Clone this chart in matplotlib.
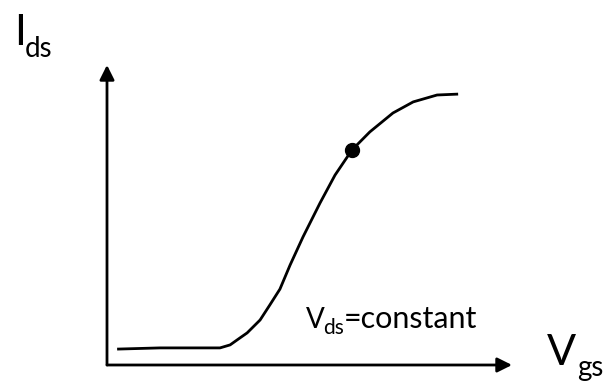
import matplotlib
matplotlib.use("Agg")
import matplotlib.pyplot as plt

plt.rcParams['font.family'] = ['Lato', 'DejaVu Sans']

W, H = 603, 381

vgs = [0.25, 1.31, 2.30, 2.79, 3.04, 3.28, 3.46, 3.78, 4.02, 4.27, 4.52,
       4.84, 5.26, 5.63, 6.05, 6.49, 7.06, 7.56, 8.15, 8.67]
ids = [0.53, 0.57, 0.57, 0.57, 0.67, 0.90, 1.07, 1.50, 2.00, 2.53, 3.33,
       4.27, 5.40, 6.33, 7.17, 7.77, 8.40, 8.77, 9.00, 9.03]
# operating point
q_vgs = 6.05
q_ids = 7.17


def fx(x):
    return x / W


def fy(y):
    return 1 - y / H


fig = plt.figure(figsize=(W / 100, H / 100), dpi=100)
ax = fig.add_axes([fx(107), fy(365), (512 - 107) / W, (365 - 65) / H])
ax.set_xlim(0, 10)
ax.set_ylim(0, 10)
ax.axis('off')

# axes with arrow heads
for tip in [(10, 0), (0, 10)]:
    ax.annotate('', xy=tip, xytext=(0, 0), xycoords='data',
                arrowprops=dict(arrowstyle='-|>', lw=2.0, color='black',
                                mutation_scale=22, shrinkA=0, shrinkB=0),
                annotation_clip=False)

ax.plot(vgs, ids, color='black', lw=2.0, solid_capstyle='butt',
        solid_joinstyle='round')
ax.plot([q_vgs], [q_ids], 'o', color='black', markersize=10)

# axis labels, main letter plus lowered subscript
fig.text(fx(14), fy(45), 'I', fontsize=31, va='baseline')
fig.text(fx(25), fy(57), 'ds', fontsize=20, va='baseline')
fig.text(fx(547), fy(365), 'V', fontsize=31, va='baseline')
fig.text(fx(577), fy(376), 'gs', fontsize=20, va='baseline')

fig.text(fx(306), fy(328), 'V', fontsize=20, va='baseline')
fig.text(fx(323), fy(334), 'ds', fontsize=15, va='baseline')
fig.text(fx(344), fy(328), '=constant', fontsize=22, va='baseline')

fig.savefig('out.png', dpi=100, facecolor='white')
